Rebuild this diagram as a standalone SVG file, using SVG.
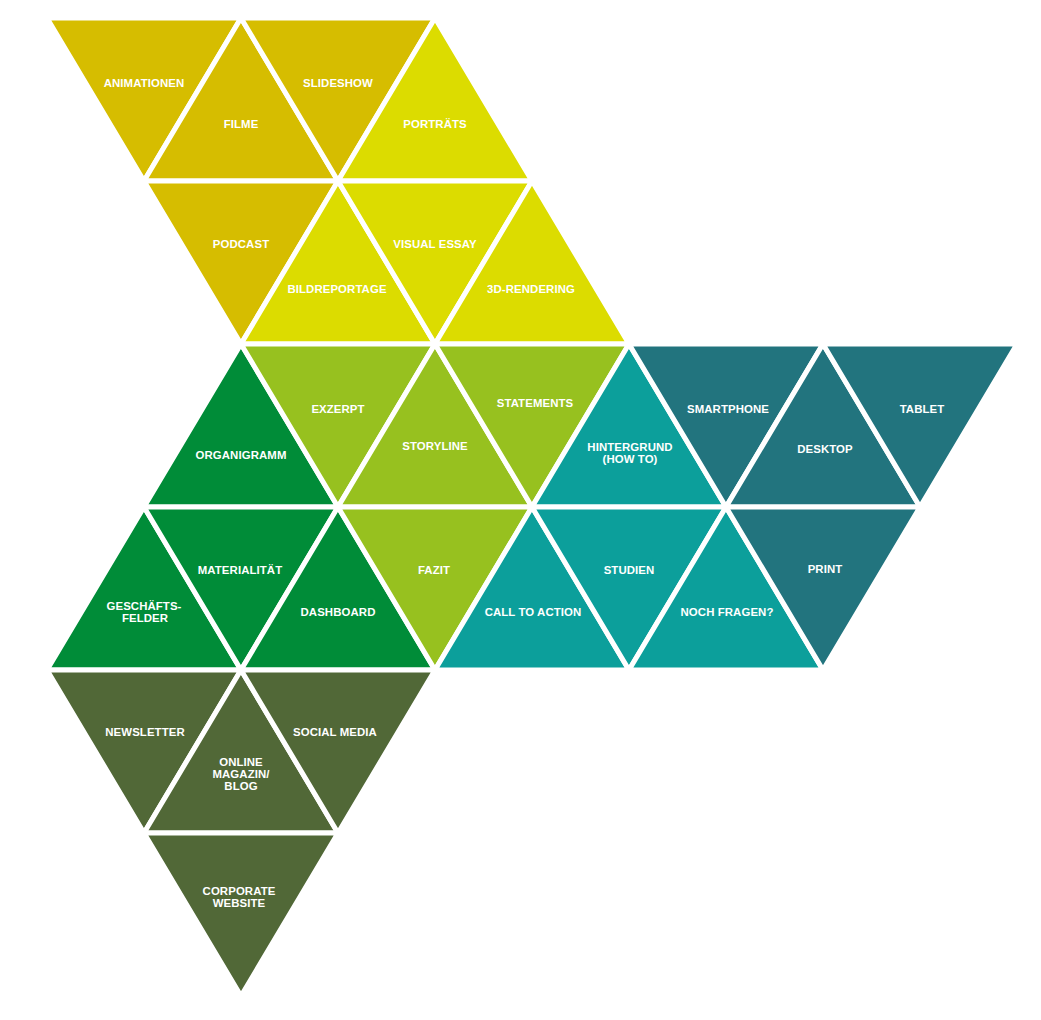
<svg xmlns="http://www.w3.org/2000/svg" width="1041" height="1020" viewBox="0 0 1041 1020">
<style>
.t{stroke:#fff;stroke-width:5;stroke-linejoin:miter}
.dy{fill:#D6BD00}.ly{fill:#DCDC00}.lm{fill:#97C11F}.gr{fill:#008C38}
.tl{fill:#0C9F9B}.dt{fill:#22747E}.ol{fill:#516837}
text{font-family:"Liberation Sans",Arial,sans-serif;font-weight:bold;font-size:11.4px;fill:#fff;text-anchor:middle;letter-spacing:0.1px}
</style>
<rect width="1041" height="1020" fill="#fff"/>
<g id="animationen"><polygon class="t dy" points="47,18 241,18 144,181"/><text x="144" y="87">ANIMATIONEN</text></g>
<g id="filme"><polygon class="t dy" points="144,181 338,181 241,18"/><text x="241" y="128">FILME</text></g>
<g id="slideshow"><polygon class="t dy" points="241,18 435,18 338,181"/><text x="338" y="87">SLIDESHOW</text></g>
<g id="portraets"><polygon class="t ly" points="338,181 532,181 435,18"/><text x="435" y="128">PORTRÄTS</text></g>
<g id="podcast"><polygon class="t dy" points="144,181 338,181 241,344"/><text x="241" y="248">PODCAST</text></g>
<g id="bildreportage"><polygon class="t ly" points="241,344 435,344 338,181"/><text x="337" y="293">BILDREPORTAGE</text></g>
<g id="visual-essay"><polygon class="t ly" points="338,181 532,181 435,344"/><text x="435" y="248">VISUAL ESSAY</text></g>
<g id="rendering"><polygon class="t ly" points="435,344 629,344 532,181"/><text x="531" y="293">3D-RENDERING</text></g>
<g id="organigramm"><polygon class="t gr" points="144,507 338,507 241,344"/><text x="241" y="459">ORGANIGRAMM</text></g>
<g id="exzerpt"><polygon class="t lm" points="241,344 435,344 338,507"/><text x="338" y="413">EXZERPT</text></g>
<g id="storyline"><polygon class="t lm" points="338,507 532,507 435,344"/><text x="435" y="450">STORYLINE</text></g>
<g id="statements"><polygon class="t lm" points="435,344 629,344 532,507"/><text x="535" y="407">STATEMENTS</text></g>
<g id="hintergrund"><polygon class="t tl" points="532,507 726,507 629,344"/><text x="630" y="451">HINTERGRUND</text><text x="630" y="463">(HOW TO)</text></g>
<g id="smartphone"><polygon class="t dt" points="629,344 823,344 726,507"/><text x="728" y="413">SMARTPHONE</text></g>
<g id="desktop"><polygon class="t dt" points="726,507 920,507 823,344"/><text x="825" y="453">DESKTOP</text></g>
<g id="tablet"><polygon class="t dt" points="823,344 1017,344 920,507"/><text x="922" y="413">TABLET</text></g>
<g id="geschaeftsfelder"><polygon class="t gr" points="47,670 241,670 144,507"/><text x="144" y="610">GESCHÄFTS-</text><text x="145" y="622">FELDER</text></g>
<g id="materialitaet"><polygon class="t gr" points="144,507 338,507 241,670"/><text x="240" y="574">MATERIALITÄT</text></g>
<g id="dashboard"><polygon class="t gr" points="241,670 435,670 338,507"/><text x="338" y="616">DASHBOARD</text></g>
<g id="fazit"><polygon class="t lm" points="338,507 532,507 435,670"/><text x="434" y="574">FAZIT</text></g>
<g id="call-to-action"><polygon class="t tl" points="435,670 629,670 532,507"/><text x="533" y="616">CALL TO ACTION</text></g>
<g id="studien"><polygon class="t tl" points="532,507 726,507 629,670"/><text x="629" y="574">STUDIEN</text></g>
<g id="noch-fragen"><polygon class="t tl" points="629,670 823,670 726,507"/><text x="727" y="616">NOCH FRAGEN?</text></g>
<g id="print"><polygon class="t dt" points="726,507 920,507 823,670"/><text x="825" y="573">PRINT</text></g>
<g id="newsletter"><polygon class="t ol" points="47,670 241,670 144,833"/><text x="145" y="736">NEWSLETTER</text></g>
<g id="online-magazin"><polygon class="t ol" points="144,833 338,833 241,670"/><text x="241" y="766">ONLINE</text><text x="241" y="778">MAGAZIN/</text><text x="241" y="790">BLOG</text></g>
<g id="social-media"><polygon class="t ol" points="241,670 435,670 338,833"/><text x="335" y="736">SOCIAL MEDIA</text></g>
<g id="corporate-website"><polygon class="t ol" points="144,833 338,833 241,996"/><text x="239" y="895">CORPORATE</text><text x="239" y="907">WEBSITE</text></g>
<g id="connectors"></g>
</svg>
